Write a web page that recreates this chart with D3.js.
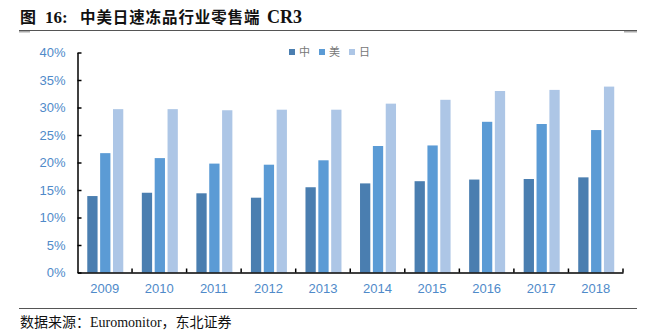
<!DOCTYPE html>
<html><head><meta charset="utf-8">
<script src="https://cdn.jsdelivr.net/npm/d3@7"></script>
<style>body{margin:0;background:#fff}svg{display:block}</style>
</head><body><div id="c"></div>
<script>
const years = ["2009","2010","2011","2012","2013","2014","2015","2016","2017","2018"];
const seriesNames = ["中","美","日"];
const china = [13.9,14.5,14.4,13.6,15.5,16.2,16.6,16.9,17.0,17.3];
const usa   = [21.7,20.8,19.8,19.6,20.4,23.0,23.1,27.4,27.0,25.9];
const japan = [29.7,29.7,29.5,29.6,29.6,30.7,31.4,33.0,33.2,33.8];
const yTicks = [0,5,10,15,20,25,30,35,40];
const colors = ["#4a7eb0","#5b9bd5","#adc6e6"];
const seriesValues = [china, usa, japan];

const W = 653, H = 333;
const svg = d3.select("#c").append("svg").attr("width", W).attr("height", H);

// title
const tg = svg.append("g").attr("font-weight", "bold").attr("fill", "#111");
tg.append("text").attr("x", 20).attr("y", 23).attr("font-size", 16).attr("font-family", "'Noto Sans CJK SC'").text("图");
tg.append("text").attr("x", 45).attr("y", 23).attr("font-size", 17).attr("font-family", "'Liberation Serif'").text("16:");
tg.append("text").attr("x", 80).attr("y", 23).attr("font-size", 15.5).attr("letter-spacing", 0.9).attr("font-family", "'Noto Sans CJK SC'").text("中美日速冻品行业零售端");
tg.append("text").attr("x", 267).attr("y", 23).attr("font-size", 18).attr("font-family", "'Liberation Serif'").text("CR3");

svg.append("line").attr("x1", 19).attr("x2", 637).attr("y1", 30.5).attr("y2", 30.5).attr("stroke", "#555").attr("stroke-width", 1);
svg.append("rect").attr("x", 19).attr("y", 31).attr("width", 11).attr("height", 1.5).attr("fill", "#aaa");
svg.append("rect").attr("x", 624).attr("y", 31).attr("width", 13).attr("height", 1.5).attr("fill", "#aaa");
svg.append("line").attr("x1", 19).attr("x2", 637).attr("y1", 308.5).attr("y2", 308.5).attr("stroke", "#555").attr("stroke-width", 1);

const src = svg.append("text").attr("x", 20).attr("y", 327).attr("font-size", 14).attr("fill", "#111");
src.append("tspan").attr("font-family", "'Noto Sans CJK SC'").text("数据来源：");
src.append("tspan").attr("font-family", "'Liberation Serif'").text("Euromonitor");
src.append("tspan").attr("font-family", "'Noto Sans CJK SC'").text("，东北证券");

const x0 = 77.5, x1 = 623, yTop = 52.5, yBot = 272.5;
const x = d3.scaleBand().domain(years).range([x0, x1]);
const y = d3.scaleLinear().domain([0, 40]).range([yBot, yTop]);
const xs = d3.scaleBand().domain(seriesNames).range([0, 36]).paddingInner(0.2);

const g = svg.append("g");
seriesNames.forEach((s, si) => {
  g.selectAll(".b" + si).data(years).enter().append("rect")
    .attr("x", d => x(d) + x.bandwidth() / 2 - 17.5 + xs(s))
    .attr("y", (d, i) => y(seriesValues[si][i]))
    .attr("width", xs.bandwidth())
    .attr("height", (d, i) => yBot - y(seriesValues[si][i]))
    .attr("fill", colors[si]);
});

// y axis
const ya = svg.append("g").attr("transform", `translate(${x0},0)`)
  .call(d3.axisLeft(y).tickValues(yTicks).tickFormat(d => d + "%").tickSizeInner(-4).tickSizeOuter(0).tickPadding(12));
ya.select(".domain").attr("stroke", "#000").attr("stroke-width", 1.5);
ya.selectAll(".tick line").attr("stroke", "#000").attr("stroke-width", 1.5);
ya.selectAll("text").attr("font-family", "'Liberation Sans', Arial").attr("font-size", 13).attr("fill", "#4f8ac9");

// x axis
const xa = svg.append("g").attr("transform", `translate(0,${yBot})`)
  .call(d3.axisBottom(x).tickSize(0).tickPadding(11));
xa.select(".domain").attr("stroke", "#000").attr("stroke-width", 1.5);
xa.selectAll("text").attr("font-family", "'Liberation Sans', Arial").attr("font-size", 13).attr("fill", "#4f8ac9");
// boundary ticks (inside)
svg.append("g").selectAll("line").data(years.slice(1).concat(["end"])).enter().append("line")
  .attr("x1", (d, i) => i < years.length - 1 ? x(d) : x1)
  .attr("x2", (d, i) => i < years.length - 1 ? x(d) : x1)
  .attr("y1", yBot - 4).attr("y2", yBot).attr("stroke", "#000").attr("stroke-width", 1.5);

// legend
const lg = svg.append("g");
const lx = [289, 319, 349];
seriesNames.forEach((s, i) => {
  lg.append("rect").attr("x", lx[i]).attr("y", 49).attr("width", 6).attr("height", 6).attr("fill", colors[i]);
  lg.append("text").attr("x", lx[i] + 10).attr("y", 56).attr("font-size", 11).attr("fill", "#777")
    .attr("font-family", "'Noto Sans CJK SC'").text(s);
});
</script></body></html>
